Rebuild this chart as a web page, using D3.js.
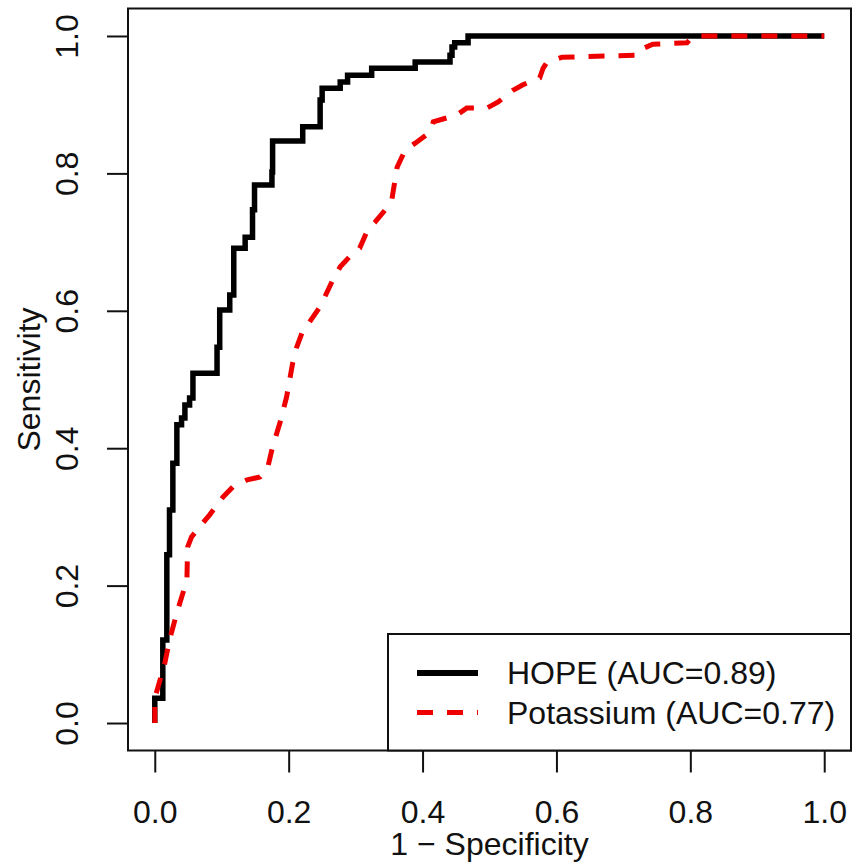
<!DOCTYPE html>
<html>
<head>
<meta charset="utf-8">
<script src="https://cdn.jsdelivr.net/npm/d3@7"></script>
<style>
  body { margin: 0; background: #fff; }
  text { font-family: "Liberation Sans", Arial, sans-serif; fill: #111; }
</style>
</head>
<body>
<script>
// ROC points (1 - specificity, sensitivity)
const hopeFpr = [0, 0, 0.012, 0.012, 0.018, 0.018, 0.022, 0.022, 0.027, 0.027, 0.033, 0.033, 0.040, 0.040,
  0.045, 0.045, 0.052, 0.052, 0.057, 0.057, 0.093, 0.093, 0.097, 0.097, 0.112, 0.112, 0.118, 0.118,
  0.135, 0.135, 0.146, 0.146, 0.149, 0.149, 0.175, 0.175, 0.176, 0.176, 0.221, 0.221, 0.247, 0.247,
  0.250, 0.250, 0.277, 0.277, 0.288, 0.288, 0.324, 0.324, 0.389, 0.389, 0.441, 0.441, 0.444, 0.444,
  0.448, 0.448, 0.468, 0.468, 1];
const hopeTpr = [0, 0.036, 0.036, 0.121, 0.121, 0.245, 0.245, 0.310, 0.310, 0.378, 0.378, 0.434, 0.434, 0.444,
  0.444, 0.463, 0.463, 0.473, 0.473, 0.509, 0.509, 0.547, 0.547, 0.601, 0.601, 0.623, 0.623, 0.691,
  0.691, 0.707, 0.707, 0.747, 0.747, 0.783, 0.783, 0.802, 0.802, 0.847, 0.847, 0.868, 0.868, 0.907,
  0.907, 0.924, 0.924, 0.933, 0.933, 0.943, 0.943, 0.953, 0.953, 0.962, 0.962, 0.972, 0.972, 0.984,
  0.984, 0.990, 0.990, 1, 1];

const potFpr = [0, 0, 0.015, 0.022, 0.034, 0.048, 0.049, 0.055, 0.075, 0.082, 0.102, 0.117, 0.138, 0.157,
  0.169, 0.176, 0.187, 0.197, 0.206, 0.212, 0.220, 0.247, 0.266, 0.277, 0.296, 0.306, 0.318, 0.329,
  0.347, 0.354, 0.362, 0.374, 0.389, 0.411, 0.416, 0.451, 0.466, 0.496, 0.513, 0.535, 0.550, 0.575,
  0.580, 0.586, 0.608, 0.720, 0.725, 0.744, 0.795, 0.803, 0.807, 1];
const potTpr = [0, 0.036, 0.087, 0.121, 0.164, 0.208, 0.256, 0.271, 0.295, 0.303, 0.329, 0.344, 0.354, 0.358,
  0.373, 0.402, 0.437, 0.475, 0.524, 0.547, 0.568, 0.606, 0.645, 0.664, 0.684, 0.691, 0.718, 0.729,
  0.750, 0.761, 0.809, 0.834, 0.844, 0.860, 0.875, 0.885, 0.895, 0.895, 0.904, 0.921, 0.929, 0.939,
  0.953, 0.962, 0.969, 0.972, 0.980, 0.988, 0.990, 0.999, 1, 1];

const ticks = [0, 0.2, 0.4, 0.6, 0.8, 1.0];
const seriesNames = ["HOPE (AUC=0.89)", "Potassium (AUC=0.77)"];
const seriesColors = ["#000000", "#ee0000"];
const seriesDash = [null, "16,14"];

const W = 853, H = 866;
const fs = "32px";
// R style: data range 0..1 plus 4% padding each side
const x = d3.scaleLinear().domain([-0.04, 1.04]).range([128, 851]);
const y = d3.scaleLinear().domain([-0.04, 1.04]).range([750.5, 8.5]);

const svg = d3.select("body").append("svg").attr("width", W).attr("height", H);

const line = d3.line().x(d => x(d[0])).y(d => y(d[1]));

const series = [
  d3.zip(hopeFpr, hopeTpr),
  d3.zip(potFpr, potTpr)
];

// black first, red dashes sit on top of it where they meet at 1.0
svg.append("path")
  .datum(series[0])
  .attr("d", line)
  .attr("fill", "none")
  .attr("stroke", seriesColors[0])
  .attr("stroke-width", 5.5);

svg.append("path")
  .datum(series[1])
  .attr("d", line)
  .attr("fill", "none")
  .attr("stroke", seriesColors[1])
  .attr("stroke-width", 5)
  .attr("stroke-dasharray", seriesDash[1]);

// axes
const xAxis = d3.axisBottom(x).tickValues(ticks).tickSize(22).tickFormat(d3.format(".1f"));
const gx = svg.append("g").attr("transform", `translate(0,${y.range()[0]})`).call(xAxis);
gx.select(".domain").remove();
gx.selectAll(".tick line").attr("stroke", "#111").attr("stroke-width", 2);
gx.selectAll(".tick text").attr("y", 72).attr("dy", null).style("font-size", fs);

const yAxis = d3.axisLeft(y).tickValues(ticks).tickSize(21).tickFormat(d3.format(".1f"));
const gy = svg.append("g").attr("transform", `translate(${x.range()[0]},0)`).call(yAxis);
gy.select(".domain").remove();
gy.selectAll(".tick line").attr("stroke", "#111").attr("stroke-width", 2);
gy.selectAll(".tick text")
  .attr("x", null).attr("dy", null)
  .attr("text-anchor", "middle")
  .attr("transform", "translate(-50,0) rotate(-90)")
  .style("font-size", fs);

// plot frame
svg.append("rect")
  .attr("x", x.range()[0]).attr("y", y.range()[1])
  .attr("width", x.range()[1] - x.range()[0])
  .attr("height", y.range()[0] - y.range()[1])
  .attr("fill", "none").attr("stroke", "#111").attr("stroke-width", 2);

// axis titles
svg.append("text")
  .attr("x", (x.range()[0] + x.range()[1]) / 2).attr("y", 855)
  .attr("text-anchor", "middle").style("font-size", fs)
  .text("1 \u2212 Specificity");

svg.append("text")
  .attr("transform", `translate(40,${(y.range()[0] + y.range()[1]) / 2}) rotate(-90)`)
  .attr("text-anchor", "middle").style("font-size", fs)
  .text("Sensitivity");

// legend
const legend = svg.append("g");
legend.append("rect")
  .attr("x", 388).attr("y", 634)
  .attr("width", x.range()[1] - 388).attr("height", y.range()[0] - 634)
  .attr("fill", "#fff").attr("stroke", "#111").attr("stroke-width", 2);

seriesNames.forEach((name, i) => {
  const ly = 673 + i * 39.5;
  legend.append("line")
    .attr("x1", 417).attr("x2", 478).attr("y1", ly).attr("y2", ly)
    .attr("stroke", seriesColors[i])
    .attr("stroke-width", i === 0 ? 6 : 5)
    .attr("stroke-dasharray", seriesDash[i]);
  legend.append("text")
    .attr("x", 507).attr("y", ly + 11)
    .style("font-size", fs)
    .text(name);
});
</script>
</body>
</html>
